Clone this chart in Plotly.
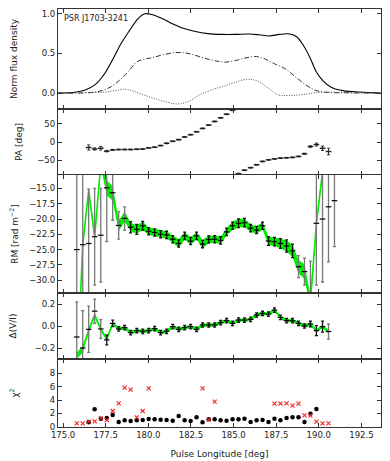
import numpy as np
import plotly.graph_objects as go
from plotly.subplots import make_subplots

# --- pulse profile ---
i_lon = [174.7, 175.7, 176.3, 176.9, 177.45, 177.95, 178.4, 178.9, 179.4, 179.8, 180.2,
         180.8, 181.4, 181.95, 182.7, 183.5, 184.3, 185.1, 185.9, 186.5, 187.1, 187.7,
         188.3, 188.7, 189.1, 189.5, 189.85, 190.25, 190.75, 191.3, 192.1, 192.9, 193.65]
i_flux = [0.0, 0.01, 0.04, 0.11, 0.25, 0.44, 0.625, 0.79, 0.94, 1.0, 0.99,
          0.94, 0.875, 0.825, 0.78, 0.75, 0.74, 0.74, 0.745, 0.735, 0.72, 0.74,
          0.745, 0.71, 0.60, 0.44, 0.27, 0.155, 0.07, 0.035, 0.017, 0.008, 0.0]

l_lon = [174.7, 176.5, 177.25, 177.85, 178.4, 178.9, 179.3, 179.8, 180.2, 180.8, 181.55,
         182.05, 182.55, 183.3, 184.1, 184.5, 185.1, 185.85, 186.35, 186.85, 187.4,
         188.0, 188.6, 189.2, 189.75, 190.35, 191.7, 193.65]
l_flux = [0.0, 0.005, 0.03, 0.085, 0.18, 0.29, 0.39, 0.43, 0.445, 0.48, 0.51,
          0.51, 0.49, 0.44, 0.40, 0.39, 0.41, 0.45, 0.46, 0.43, 0.37,
          0.31, 0.21, 0.11, 0.04, 0.012, 0.004, 0.0]

v_lon = [174.7, 176.5, 177.45, 178.0, 178.6, 179.0, 179.6, 180.4, 181.15, 181.75, 182.35,
         183.1, 183.9, 184.5, 185.1, 185.85, 186.45, 187.05, 187.6, 188.2, 189.0,
         189.75, 190.55, 191.7, 193.65]
v_flux = [0.0, 0.008, 0.012, 0.03, 0.05, 0.033, -0.012, -0.07, -0.117, -0.137, -0.105,
          -0.012, 0.054, 0.092, 0.137, 0.175, 0.146, 0.062, -0.02, -0.03, -0.02,
          0.004, 0.012, 0.004, 0.0]

# --- per-bin longitudes (44 bins) ---
lon = [175.80, 176.15, 176.50, 176.85, 177.21, 177.56, 177.91, 178.26, 178.61, 178.96,
       179.32, 179.67, 180.02, 180.37, 180.72, 181.07, 181.43, 181.78, 182.13, 182.48,
       182.83, 183.18, 183.54, 183.89, 184.24, 184.59, 184.94, 185.29, 185.64, 186.00,
       186.35, 186.70, 187.05, 187.40, 187.75, 188.11, 188.46, 188.81, 189.16, 189.51,
       189.86, 190.22, 190.57, 190.92]

# position angle, bins 2..42
pa = [-15, -19, -17, -25, -21.5, -20.6, -20.5, -20.5, -19.8, -19, -16, -14.3, -9.8,
      -3.6, 1.9, 6.4, 13.6, 19.9, 28, 37, 46, 56, 66, 75.7, 86.5,
      -86.4, -77, -70, -62, -53, -48.6, -46, -44, -43, -42, -39.4, -32, -12.4,
      -7, -17, -26]
pa_err = [7, 3, 5, 2, 1.5, 1, 1, 1, 1, 1, 1, 1, 1,
          1, 1, 1, 1, 1, 1, 1, 1, 1, 1, 1, 1,
          1, 1, 1, 1, 1, 1, 1, 1, 1, 1, 1, 1.5, 2,
          4, 6, 9]

# rotation measure: green fit (bins 0..41) and measured points (bins 0..43)
rm_fit = [-46.8, -24.2, -15.3, -22.9, -11.0, -14.9, -15.8, -21.1, -19.6, -21.3,
          -21.7, -21.1, -22.0, -22.2, -22.5, -22.6, -23.3, -24.0, -22.75, -23.6,
          -22.75, -24.1, -23.35, -23.3, -23.5, -22.1, -21.1, -20.7, -20.6, -21.5,
          -21.8, -21.1, -23.6, -23.7, -24.0, -24.4, -25.2, -27.8, -28.6, -33.5,
          -20.7, -12.3]
rm_band = [0.5, 0.5, 0.5, 0.5, 0.5, 1.2, 1.2, 0.9, 0.8, 0.7,
           0.7, 0.7, 0.6, 0.6, 0.6, 0.6, 0.6, 0.7, 0.6, 0.6,
           0.6, 0.7, 0.6, 0.6, 0.6, 0.6, 0.7, 0.7, 0.7, 0.6,
           0.6, 0.6, 0.7, 0.7, 0.8, 0.9, 1.0, 1.1, 1.2, 1.0,
           0.7, 0.6]
rm_obs = [-25, -24.2, -24.0, -22.9, -22.65, -14.9, -15.7, -21.05, -19.9, -21.35,
          -21.7, -21.1, -22.0, -22.2, -22.5, -22.6, -23.3, -24.0, -22.75, -23.6,
          -22.75, -24.1, -23.35, -23.3, -23.5, -22.1, -21.1, -20.7, -20.6, -21.5,
          -21.8, -21.1, -23.6, -23.7, -24.0, -24.4, -25.2, -27.8, -28.6, -33.5,
          -20.7, -20.0, -18.0, -17.0]
rm_err = [20, 16, 8.9, 7.9, 7.65, 8.8, 4.5, 2.25, 1.9, 0.9,
          0.8, 0.7, 0.6, 0.6, 0.6, 0.6, 0.6, 0.6, 0.6, 0.6,
          0.6, 0.6, 0.6, 0.6, 0.6, 0.6, 0.6, 0.7, 0.7, 0.6,
          0.6, 0.6, 0.7, 0.7, 0.8, 1.0, 1.1, 1.8, 2.2, 6.6,
          10.1, 10.3, 9.0, 7.5]
rm_mean = -22.6

# circular polarisation change, bins 0..42
dv_fit = [-0.27, -0.21, -0.04, 0.10, -0.03, -0.12, 0.024, -0.027, -0.015, -0.06,
          -0.042, -0.048, -0.042, -0.024, -0.06, -0.048, -0.006, -0.03, -0.015, -0.006,
          -0.03, 0.009, 0.009, 0.009, 0.03, 0.048, 0.024, 0.054, 0.054, 0.06,
          0.10, 0.114, 0.108, 0.144, 0.078, 0.048, 0.048, 0.024, 0.0, 0.018,
          -0.042, -0.006, -0.05]
dv_band = [0.03, 0.03, 0.02, 0.02, 0.015, 0.015, 0.015, 0.015, 0.015, 0.015,
           0.015, 0.015, 0.015, 0.015, 0.015, 0.015, 0.015, 0.015, 0.015, 0.015,
           0.015, 0.015, 0.015, 0.015, 0.015, 0.015, 0.015, 0.015, 0.015, 0.015,
           0.015, 0.015, 0.015, 0.015, 0.015, 0.015, 0.015, 0.015, 0.015, 0.015,
           0.015, 0.015, 0.015]
dv_obs = [-0.10, -0.20, -0.03, 0.135, -0.027, -0.126, 0.024, -0.027, -0.015, -0.06,
          -0.042, -0.048, -0.042, -0.024, -0.06, -0.048, -0.006, -0.03, -0.015, -0.006,
          -0.03, 0.009, 0.009, 0.009, 0.03, 0.048, 0.024, 0.054, 0.054, 0.06,
          0.10, 0.114, 0.108, 0.144, 0.078, 0.048, 0.048, 0.024, 0.0, 0.018,
          -0.042, -0.006, -0.05]
dv_err = [0.32, 0.34, 0.21, 0.11, 0.085, 0.045, 0.03, 0.02, 0.02, 0.02,
          0.02, 0.02, 0.02, 0.02, 0.02, 0.02, 0.02, 0.02, 0.02, 0.02,
          0.02, 0.02, 0.02, 0.02, 0.02, 0.02, 0.02, 0.02, 0.02, 0.02,
          0.02, 0.02, 0.02, 0.02, 0.02, 0.02, 0.02, 0.02, 0.02, 0.025,
          0.045, 0.05, 0.07]

# reduced chi-square, bins 0..42
chi_black = [None, None, 0.65, 2.6, 1.2, 1.3, 1.75, 0.7, 0.95, 0.85,
             0.95, 1.0, 1.15, 1.1, 1.05, 1.0, 0.9, 1.6, 0.95, 0.85,
             1.4, 0.65, 1.1, 1.1, 0.95, 0.9, 1.1, 1.1, 1.2, 0.7,
             0.95, 1.0, 0.7, 1.2, 0.95, 1.3, 1.4, 1.4, 0.7, 1.95,
             2.65, None, None]
chi_red = [0.5, 0.5, 0.75, 0.8, 1.25, 1.0, 2.35, 3.5, 5.85, 5.55,
           1.4, 2.35, 5.75, None, None, None, None, None, None, None,
           None, 5.75, 1.05, 3.75, None, None, None, None, None, None,
           None, None, None, 3.45, 3.45, 3.5, 3.15, 3.45, 1.7, 1.65,
           0.75, 0.5, 0.5]

FONT = "DejaVu Sans"
INK = "#222222"
GREEN = "#00ee00"

fig = make_subplots(rows=5, cols=1, shared_xaxes=True, vertical_spacing=0,
                    row_heights=[100, 66, 118, 66, 68])

# panel 1: profiles
fig.add_trace(go.Scatter(x=i_lon, y=i_flux, mode="lines", line=dict(color="black", width=1.1, shape="spline")), 1, 1)
fig.add_trace(go.Scatter(x=l_lon, y=l_flux, mode="lines", line=dict(color="#333", width=1, dash="5px,2px,1px,2px", shape="spline")), 1, 1)
fig.add_trace(go.Scatter(x=v_lon, y=v_flux, mode="lines", line=dict(color="#555", width=1, dash="1px,1.5px", shape="spline")), 1, 1)
fig.add_annotation(text="PSR J1703-3241", xref="x domain", yref="y domain", x=0.012, y=0.975,
                   xanchor="left", yanchor="top", showarrow=False, font=dict(size=8, color=INK))

# panel 2: PA
fig.add_trace(go.Scatter(x=lon[2:43], y=pa, mode="markers",
                         marker=dict(symbol="line-ew", size=4, line=dict(width=1.5, color="#222")),
                         error_y=dict(type="data", array=pa_err, color="#333", thickness=1, width=1.5)), 2, 1)


def band(row, x, fit, half, err_split, obs, err):
    x = np.array(x)
    fit = np.array(fit, dtype=float)
    half = np.array(half, dtype=float)
    n = len(fit)
    fig.add_trace(go.Scatter(x=x[:n], y=fit - half, mode="lines", line=dict(width=0, color=GREEN)), row, 1)
    fig.add_trace(go.Scatter(x=x[:n], y=fit + half, mode="lines", line=dict(width=0, color=GREEN),
                             fill="tonexty", fillcolor=GREEN), row, 1)
    fig.add_trace(go.Scatter(x=x[:n], y=fit, mode="lines", line=dict(width=1.6, color=GREEN)), row, 1)
    obs = np.array(obs, dtype=float)
    err = np.array(err, dtype=float)
    m = len(obs)
    big = err > err_split
    for sel, col in ((big, "#777777"), (~big, "#111111")):
        fig.add_trace(go.Scatter(x=x[:m][sel], y=obs[sel], mode="markers",
                                 marker=dict(symbol="line-ew", size=4, line=dict(width=1.2, color="black")),
                                 error_y=dict(type="data", array=err[sel], color=col, thickness=1.3, width=1.5)),
                      row, 1)


# panel 3: RM
fig.add_hline(y=rm_mean, line=dict(color="#555", width=1, dash="1px,1.5px"), row=3, col=1)
band(3, lon, rm_fit, rm_band, 1.5, rm_obs, rm_err)

# panel 4: delta V/I
fig.add_hline(y=0, line=dict(color="black", width=1, dash="3px,2px"), row=4, col=1)
band(4, lon, dv_fit, dv_band, 0.06, dv_obs, dv_err)

# panel 5: chi^2
fig.add_hline(y=1, line=dict(color="#555", width=1.2, dash="3px,2px"), row=5, col=1)
fig.add_trace(go.Scatter(x=lon[:43], y=chi_black, mode="markers",
                         marker=dict(symbol="circle", size=4.5, color="black")), 5, 1)
fig.add_trace(go.Scatter(x=lon[:43], y=chi_red, mode="markers",
                         marker=dict(symbol="x-thin", size=4, line=dict(width=1.1, color="#ff2020"))), 5, 1)

axis_style = dict(showline=True, linecolor="#333", linewidth=1.2, mirror="allticks",
                  ticks="inside", ticklen=4, tickcolor="#333", showgrid=False, zeroline=False,
                  automargin=False, tickfont=dict(size=8.5, color=INK))
fig.update_xaxes(range=[174.7, 193.65], tick0=175, dtick=2.5, tickformat=".1f", **axis_style)
fig.update_xaxes(title=dict(text="Pulse Longitude [deg]", font=dict(size=9, color=INK), standoff=11), row=5, col=1)

title_font = dict(size=9, color=INK)
fig.update_yaxes(**axis_style)
fig.update_yaxes(range=[-0.2, 1.06], tickvals=[0, 0.5, 1.0], tickformat=".1f",
                 title=dict(text="Norm flux density", font=title_font, standoff=22), row=1, col=1)
fig.update_yaxes(range=[-90, 90], tickvals=[-50, 0, 50],
                 title=dict(text="PA [deg]", font=title_font, standoff=13), row=2, col=1)
fig.update_yaxes(range=[-32.1, -12.8], tick0=-15, dtick=2.5, tickformat=".1f",
                 title=dict(text="RM [rad m<sup>−2</sup>]", font=title_font, standoff=10), row=3, col=1)
fig.update_yaxes(range=[-0.3, 0.3], tickvals=[-0.2, 0, 0.2], tickformat=".1f",
                 title=dict(text="Δ(V/I)", font=title_font, standoff=16), row=4, col=1)
fig.update_yaxes(range=[-0.05, 10.15], tickvals=[0, 2, 4, 6, 8],
                 title=dict(text="χ<sup>2</sup>", font=title_font, standoff=29), row=5, col=1)

# the page body adds an 8px offset, so margins are shifted to keep the plot area in place
fig.update_layout(width=390, height=461, margin=dict(l=50, r=17, t=1, b=42),
                  showlegend=False, plot_bgcolor="white", paper_bgcolor="white",
                  font=dict(family=FONT, size=8.5, color=INK))

fig.write_html("out.html")
